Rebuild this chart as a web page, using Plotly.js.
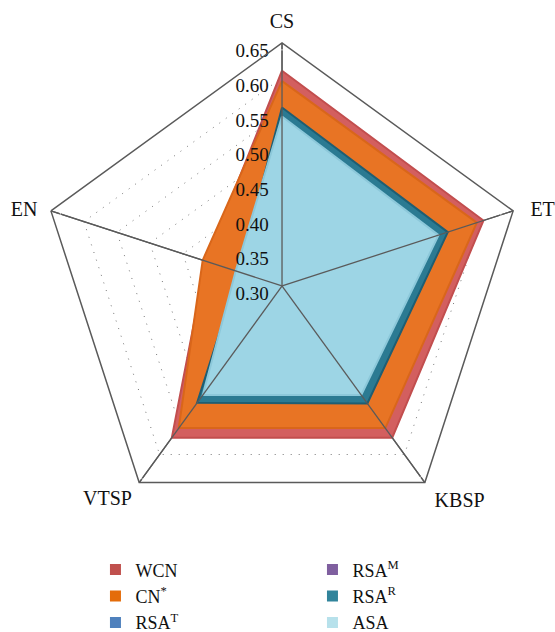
<!DOCTYPE html>
<html>
<head>
<meta charset="utf-8">
<script src="https://cdn.plot.ly/plotly-3.0.1.min.js"></script>
<style>html,body{margin:0;padding:0;background:#fff;} #chart{width:555px;height:632px;}</style>
</head>
<body>
<div id="chart"></div>
<script>
const categories = ['CS', 'ET', 'KBSP', 'VTSP', 'EN'];
const seriesNames = ['WCN', 'CN<sup>*</sup>', 'RSA<sup>T</sup>', 'RSA<sup>M</sup>', 'RSA<sup>R</sup>', 'ASA'];
const wcn  = [0.610, 0.605, 0.570, 0.570, 0.415];
const cnStar = [0.595, 0.595, 0.553, 0.553, 0.420];
const rsaT = [0.552, 0.545, 0.505, 0.504, 0.360];
const rsaM = [0.553, 0.547, 0.506, 0.505, 0.360];
const rsaR = [0.557, 0.551, 0.509, 0.508, 0.365];
const asa  = [0.544, 0.537, 0.494, 0.494, 0.370];
const radialTicks = [0.30, 0.35, 0.40, 0.45, 0.50, 0.55, 0.60, 0.65];
const radialTickLabels = ['0.30', '0.35', '0.40', '0.45', '0.50', '0.55', '0.60', '0.65'];

const seriesValues = [wcn, cnStar, rsaT, rsaM, rsaR, asa];
const fillColors = ['#D35F5F', '#E87424', '#4F81BD', '#8064A2', '#2B7A92', '#9DD5E5'];
const edgeColors = ['#C24E4E', '#D9661A', '#3F6FA8', '#6B528C', '#1E5E73', '#8CC8DA'];
const legendColors = ['#C0504D', '#E46C0A', '#4F81BD', '#7F5F9F', '#31849B', '#B7E1EB'];
const FONT = "'Liberation Serif', 'Times New Roman', serif";
const rMin = radialTicks[0], rMax = radialTicks[radialTicks.length - 1];

const close = a => a.concat([a[0]]);
const traces = [];
seriesValues.forEach((vals, i) => {
  traces.push({
    type: 'scatterpolar',
    r: close(vals),
    theta: close(categories),
    mode: 'lines',
    fill: 'toself',
    fillcolor: fillColors[i],
    line: {color: edgeColors[i], width: 2},
    showlegend: false,
    hoverinfo: 'skip'
  });
});
// spokes drawn above fills
const spokeR = [], spokeT = [];
categories.forEach(c => { spokeR.push(rMin, rMax, null); spokeT.push(c, c, null); });
traces.push({type: 'scatterpolar', r: spokeR, theta: spokeT, mode: 'lines',
  line: {color: '#5a5a5a', width: 1.3}, showlegend: false, hoverinfo: 'skip', connectgaps: false});
// radial tick labels along the CS axis
traces.push({type: 'scatterpolar', r: radialTicks, theta: radialTicks.map(() => categories[0]),
  mode: 'text', text: radialTickLabels.map(t => t + '\u2002\u2009'), textposition: 'bottom left',
  textfont: {family: FONT, size: 19, color: '#111'}, showlegend: false, hoverinfo: 'skip', cliponaxis: false});
// category labels at the outer vertices
traces.push({type: 'scatterpolar', r: categories.map(() => rMax), theta: categories,
  mode: 'markers+text', text: categories,
  textposition: ['top center', 'middle right', 'bottom right', 'bottom left', 'middle left'],
  marker: {size: [14, 26, 14, 10, 20], color: 'rgba(0,0,0,0)'},
  textfont: {family: FONT, size: 20, color: '#111'}, showlegend: false, hoverinfo: 'skip', cliponaxis: false});
// legend entries
seriesNames.forEach((n, i) => {
  traces.push({type: 'scatterpolar', r: [null], theta: [null], mode: 'markers', name: n,
    marker: {symbol: 'square', size: 11, color: legendColors[i]},
    legend: i < 3 ? 'legend' : 'legend2', showlegend: true});
});

const layout = {
  width: 555, height: 632,
  margin: {l: 0, r: 0, t: 0, b: 0, autoexpand: false},
  paper_bgcolor: '#fff',
  font: {family: FONT, color: '#111', size: 19},
  polar: {
    domain: {x: [0.0703, 0.946], y: [0.163, 0.932]},
    bgcolor: 'rgba(0,0,0,0)',
    gridshape: 'linear',
    angularaxis: {
      categoryarray: categories, categoryorder: 'array',
      rotation: 90, direction: 'clockwise',
      showline: true, linecolor: '#5a5a5a', linewidth: 1.5,
      gridcolor: '#5a5a5a', gridwidth: 1.3,
      ticks: '', showticklabels: false
    },
    radialaxis: {
      range: [rMin - 0.0002, rMax], tickvals: radialTicks,
      angle: 90, showticklabels: false,
      showline: false, ticks: '',
      gridcolor: '#777', griddash: '1px,7px', gridwidth: 1
    }
  },
  legend: {x: 0.172, y: 0.1275, xanchor: 'left', yanchor: 'top', orientation: 'v',
    bgcolor: 'rgba(0,0,0,0)', font: {family: FONT, size: 18, color: '#111'}, tracegroupgap: 0},
  legend2: {x: 0.563, y: 0.1275, xanchor: 'left', yanchor: 'top', orientation: 'v',
    bgcolor: 'rgba(0,0,0,0)', font: {family: FONT, size: 18, color: '#111'}, tracegroupgap: 0},
  showlegend: true
};
Plotly.newPlot('chart', traces, layout, {displayModeBar: false, staticPlot: true});
</script>
</body>
</html>
